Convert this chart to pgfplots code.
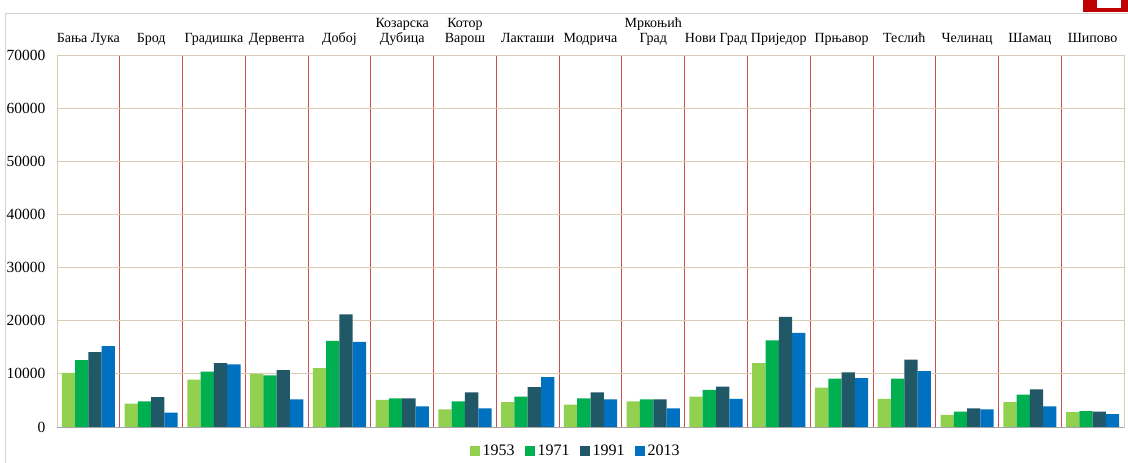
\documentclass[border=0pt]{standalone}
\usepackage{pgfplots}
\pgfplotsset{compat=1.18}
\usepackage{pgfplotstable}
\usepackage{fontspec}
\setmainfont{Liberation Serif}
\definecolor{cA}{HTML}{92D050}
\definecolor{cB}{HTML}{00B050}
\definecolor{cC}{HTML}{215868}
\definecolor{cD}{HTML}{0070C0}
\definecolor{gridb}{HTML}{D9CDB4}
\definecolor{sep}{HTML}{C8504D}
\pgfplotstableread{
x y1953 y1971 y1991 y2013
0 10200 12600 14100 15200
1 4400 4800 5600 2700
2 8900 10400 12000 11800
3 10000 9700 10700 5200
4 11100 16200 21200 16000
5 5100 5400 5400 3900
6 3300 4800 6500 3500
7 4700 5700 7500 9400
8 4200 5400 6500 5200
9 4800 5200 5200 3500
10 5700 7000 7600 5300
11 12000 16300 20700 17700
12 7400 9100 10300 9200
13 5300 9100 12700 10500
14 2300 2900 3500 3300
15 4700 6100 7100 3900
16 2800 3000 2900 2400
}\data
\begin{document}
\begin{tikzpicture}[x=1pt,y=1pt]
\begin{axis}[
  scale only axis, width=1067pt, height=372pt,
  ybar=0pt, bar width=13.3pt,
  xmin=-0.5, xmax=16.5, ymin=0, ymax=70000,
  xtick={0,...,16},
  xticklabels={{Бања Лука},{Брод},{Градишка},{Дервента},{Добој},{Козарска\\Дубица},{Котор\\Варош},{Лакташи},{Модрича},{Мркоњић\\Град},{Нови Град},{Приједор},{Прњавор},{Теслић},{Челинац},{Шамац},{Шипово}},
  xticklabel pos=upper,
  xticklabel style={font=\fontsize{14}{15.5}\selectfont, align=center, anchor=south, text depth=0.25em, yshift=2pt},
  minor xtick={0.5,1.5,...,15.5},
  xminorgrids, minor x grid style={draw=sep, line width=0.9pt},
  major x tick style={draw=none}, minor x tick style={draw=none},
  ytick={0,10000,...,70000},
  ymajorgrids, major grid style={draw=gridb, line width=0.9pt},
  y tick style={draw=none},
  yticklabel style={font=\fontsize{15.5}{16}\selectfont, xshift=-8pt},
  /pgf/number format/.cd, set thousands separator={}, assume math mode=true,
  /pgfplots/.cd,
  scaled y ticks=false,
  axis line style={draw=gridb, line width=0.9pt},
  legend style={at={(0.486,-0.0645)}, anchor=center, draw=none, fill=none,
    font=\fontsize{16}{17}\selectfont,
    /tikz/every even column/.append style={column sep=8pt},
    /tikz/every odd column/.append style={column sep=1pt}},
  legend columns=4,
  legend image code/.code={\fill[#1] (0pt,-5pt) rectangle (10pt,5pt);},
]
\addplot[fill=cA, draw=none] table[x=x,y=y1953]{\data};
\addplot[fill=cB, draw=none] table[x=x,y=y1971]{\data};
\addplot[fill=cC, draw=none] table[x=x,y=y1991]{\data};
\addplot[fill=cD, draw=none] table[x=x,y=y2013]{\data};
\legend{1953,1971,1991,2013}
\end{axis}
\draw[gray!70, line width=0.9pt] ([yshift=-0.3pt]current axis.south west) -- ([yshift=-0.3pt]current axis.south east);
\draw[gray!35, line width=0.9pt] ([xshift=-52pt,yshift=-40pt]current axis.south west) |- ([xshift=4pt,yshift=42pt]current axis.north east);
\fill[red!75!black] ([xshift=-41pt,yshift=43pt]current axis.north east) rectangle ([xshift=4pt,yshift=55pt]current axis.north east);
\fill[white] ([xshift=-27pt,yshift=47pt]current axis.north east) rectangle ([xshift=-3pt,yshift=55pt]current axis.north east);
\pgfresetboundingbox
\path ([xshift=-57pt,yshift=-36pt]current axis.south west) rectangle ([xshift=4pt,yshift=55pt]current axis.north east);
\end{tikzpicture}
\end{document}
